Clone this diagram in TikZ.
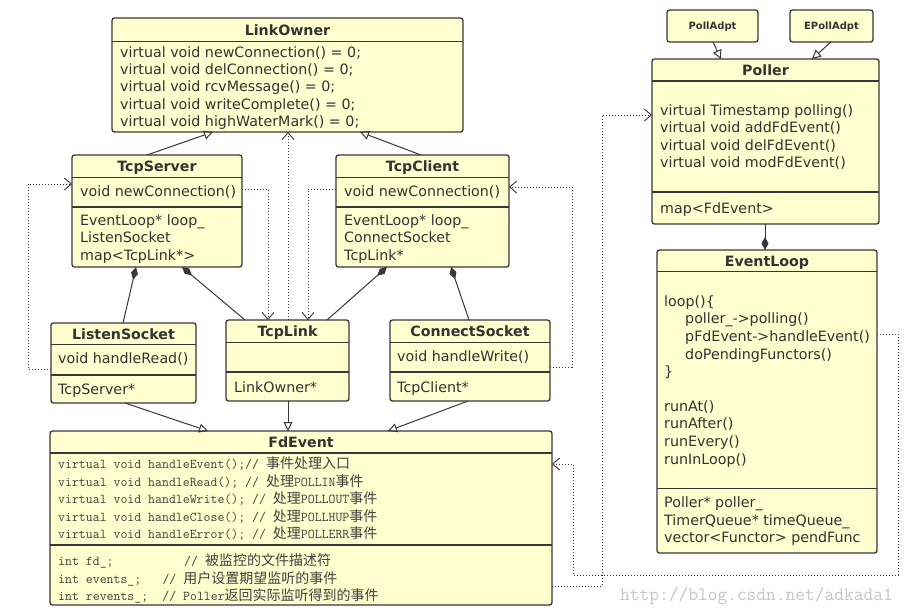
\documentclass[tikz,border=0pt]{standalone}
\usepackage{fontspec}
\setmainfont{DejaVu Sans}
\newfontfamily\cjk{Noto Sans CJK SC}
\newfontfamily\lmmono{Latin Modern Mono}
\usetikzlibrary{arrows.meta}
\definecolor{umlfill}{HTML}{FEFECE}
\definecolor{umlline}{HTML}{383838}
\definecolor{umltext}{HTML}{333333}
\definecolor{wmark}{HTML}{C9C5C0}
\frenchspacing
\newcommand\zh[1]{{\cjk\fontsize{14}{16}\selectfont #1}}
\newcommand\classlines[6]{%
  \foreach \t [count=\i] in {#6}{%
    \node[#5, anchor=base west] (#1\i) at (#2,{#3+(\i-1)*#4}) {\t};}}
\tikzset{
  box/.style={draw=umlline, line width=1.3pt, fill=umlfill, rounded corners=2.5pt,
    inner sep=0pt, outer sep=0pt, anchor=north west},
  divl/.style={draw=umlline, line width=1.3pt},
  ttl/.style={font=\bfseries\fontsize{14.2}{16}\selectfont, text=umltext, inner sep=0pt,
    text height=10.3pt, text depth=0pt, anchor=center},
  sttl/.style={font=\bfseries\fontsize{10}{12}\selectfont, text=umltext, inner sep=0pt,
    text height=7.3pt, text depth=0pt, anchor=center},
  body/.style={font=\fontsize{14.25}{16}\selectfont, text=umltext, inner sep=0pt},
  mono/.style={font=\lmmono\fontsize{13.45}{16}\selectfont, text=black!75, inner sep=0pt},
  conn/.style={draw=umlline, line width=1pt},
  inh/.style={conn, -{Triangle[open, length=9pt, width=9pt]}},
  comp/.style={conn, {Diamond[length=13pt, width=7pt]}-},
  compend/.style={conn, -{Diamond[length=13pt, width=7pt]}},
  dep/.style={draw=umlline, line width=0.9pt, dash pattern=on 1.1pt off 1.9pt,
    -{Straight Barb[length=7pt, width=12pt]}},
}
\begin{document}
\begin{tikzpicture}[x=1pt, y=-1pt]
\useasboundingbox (0,0) rectangle (911,614);
\fill[white] (0,0) rectangle (911,614);

% ---------------- LinkOwner
\node[box, minimum width=351pt, minimum height=114pt] (lo) at (112,18) {};
\draw[divl] ([yshift=-23.7pt]lo.north west) -- ([yshift=-23.7pt]lo.north east);
\node[ttl] (lot) at ([yshift=-12pt]lo.north) {LinkOwner};
\classlines{lo}{120}{57.3}{17.3}{body}{virtual void newConnection() = 0;, virtual void delConnection() = 0;, virtual void rcvMessage() = 0;, virtual void writeComplete() = 0;, virtual void highWaterMark() = 0;}

% ---------------- TcpServer
\node[box, minimum width=170pt, minimum height=112pt] (ts) at (72,155) {};
\draw[divl] ([yshift=-22.7pt]ts.north west) -- ([yshift=-22.7pt]ts.north east);
\draw[divl] ([yshift=-52pt]ts.north west) -- ([yshift=-52pt]ts.north east);
\node[ttl] (tst) at ([yshift=-11.5pt]ts.north) {TcpServer};
\node[body, anchor=base west] (tsm) at (80,196) {void newConnection()};
\classlines{ts}{80}{225.5}{17.3}{body}{EventLoop* loop\_, ListenSocket, map<TcpLink*>}

% ---------------- TcpClient
\node[box, minimum width=173pt, minimum height=112pt] (tc) at (336,155) {};
\draw[divl] ([yshift=-22.7pt]tc.north west) -- ([yshift=-22.7pt]tc.north east);
\draw[divl] ([yshift=-52pt]tc.north west) -- ([yshift=-52pt]tc.north east);
\node[ttl] (tct) at ([yshift=-11.5pt]tc.north) {TcpClient};
\node[body, anchor=base west] (tcm) at (344,196) {void newConnection()};
\classlines{tc}{344}{225.5}{17.3}{body}{EventLoop* loop\_, ConnectSocket, TcpLink*}

% ---------------- ListenSocket
\node[box, minimum width=145pt, minimum height=80pt] (ls) at (51,323) {};
\draw[divl] ([yshift=-21.5pt]ls.north west) -- ([yshift=-21.5pt]ls.north east);
\draw[divl] ([yshift=-52pt]ls.north west) -- ([yshift=-52pt]ls.north east);
\node[ttl] (lst) at ([yshift=-11pt]ls.north) {ListenSocket};
\node[body, anchor=base west] (lsm) at (58,363.8) {void handleRead()};
\node[body, anchor=base west] (lsa) at (58,394.5) {TcpServer*};

% ---------------- TcpLink
\node[box, minimum width=123pt, minimum height=81pt] (tl) at (226,320) {};
\draw[divl] ([yshift=-22.3pt]tl.north west) -- ([yshift=-22.3pt]tl.north east);
\draw[divl] ([yshift=-52pt]tl.north west) -- ([yshift=-52pt]tl.north east);
\node[ttl] (tlt) at ([yshift=-11.5pt]tl.north) {TcpLink};
\node[body, anchor=base west] (tla) at (234,392.5) {LinkOwner*};

% ---------------- ConnectSocket
\node[box, minimum width=160pt, minimum height=81pt] (cs) at (390,320) {};
\draw[divl] ([yshift=-22.3pt]cs.north west) -- ([yshift=-22.3pt]cs.north east);
\draw[divl] ([yshift=-52pt]cs.north west) -- ([yshift=-52pt]cs.north east);
\node[ttl] (cst) at ([yshift=-11.5pt]cs.north) {ConnectSocket};
\node[body, anchor=base west] (csm) at (397,361.2) {void handleWrite()};
\node[body, anchor=base west] (csa) at (397,392.8) {TcpClient*};

% ---------------- FdEvent
\node[box, minimum width=502pt, minimum height=174pt] (fd) at (50,431) {};
\draw[divl] ([yshift=-22pt]fd.north west) -- ([yshift=-22pt]fd.north east);
\draw[divl] ([yshift=-114pt]fd.north west) -- ([yshift=-114pt]fd.north east);
\node[ttl] (fdt) at ([yshift=-11pt]fd.north) {FdEvent};
\classlines{fdm}{58}{468.8}{17.5}{mono}{virtual void handleEvent();// \zh{事件处理入口}, virtual void handleRead(); // \zh{处理}POLLIN\zh{事件}, virtual void handleWrite(); // \zh{处理}POLLOUT\zh{事件}, virtual void handleClose(); // \zh{处理}POLLHUP\zh{事件}, virtual void handleError(); // \zh{处理}POLLERR\zh{事件}}
\classlines{fda}{58}{565.3}{17.8}{mono}{int fd\_;\hspace{5.25em}// \zh{被监控的文件描述符}, int events\_;\hspace{1.575em}// \zh{用户设置期望监听的事件}, int revents\_;\hspace{1.05em}// Poller\zh{返回实际监听得到的事件}}

% ---------------- PollAdpt / EPollAdpt
\node[box, minimum width=91pt, minimum height=32pt] (pa) at (667,10) {};
\node[sttl] (pat) at (pa.center) {PollAdpt};
\node[box, minimum width=83pt, minimum height=32pt] (ep) at (790,10) {};
\node[sttl] (ept) at (ep.center) {EPollAdpt};

% ---------------- Poller
\node[box, minimum width=227pt, minimum height=165pt] (po) at (652,59) {};
\draw[divl] ([yshift=-22pt]po.north west) -- ([yshift=-22pt]po.north east);
\draw[divl] ([yshift=-133pt]po.north west) -- ([yshift=-133pt]po.north east);
\node[ttl] (pot) at ([yshift=-11.5pt]po.north) {Poller};
\classlines{pom}{660}{115.2}{17.5}{body}{virtual Timestamp polling(), virtual void addFdEvent(), virtual void delFdEvent(), virtual void modFdEvent()}
\node[body, anchor=base west] (poa) at (660,213.8) {map<FdEvent>};

% ---------------- EventLoop
\node[box, minimum width=220pt, minimum height=303pt] (el) at (657,250) {};
\draw[divl] ([yshift=-21.7pt]el.north west) -- ([yshift=-21.7pt]el.north east);
\draw[divl] ([yshift=-238.3pt]el.north west) -- ([yshift=-238.3pt]el.north east);
\node[ttl] (elt) at ([yshift=-11pt]el.north) {EventLoop};
\node[body, anchor=base west] (ell) at (664,306.2) {loop()\{};
\classlines{eli}{685}{323.8}{17.6}{body}{poller\_->polling(), pFdEvent->handleEvent(), doPendingFunctors()}
\node[body, anchor=base west] (elc) at (664,376.6) {\}};
\classlines{elr}{664}{411.2}{17.6}{body}{runAt(), runAfter(), runEvery(), runInLoop()}
\classlines{ela}{664}{507.8}{17.5}{body}{Poller* poller\_, TimerQueue* timeQueue\_, vector<Functor> pendFunc}

% ---------------- watermark
\node[font=\lmmono\fontsize{18.9}{20}\selectfont, text=wmark, inner sep=0pt, anchor=base west] (wm) at (620,600) {http://blog.csdn.net/adkada1};

% ---------------- inheritance
\draw[inh] ([xshift=75pt]ts.north west) -- ([xshift=101pt]lo.south west);
\draw[inh] ([xshift=85pt]tc.north west) -- ([xshift=248pt]lo.south west);
\draw[inh] ([xshift=74pt]ls.south west) -- ([xshift=158pt]fd.north west);
\draw[inh] ([xshift=62pt]tl.south west) -- ([xshift=238pt]fd.north west);
\draw[inh] ([xshift=78pt]cs.south west) -- ([xshift=338pt]fd.north west);
\draw[inh] ([xshift=46pt]pa.south west) -- ([xshift=69pt]po.north west);
\draw[inh] ([xshift=41pt]ep.south west) -- ([xshift=160pt]po.north west);

% ---------------- composition
\draw[comp] ([xshift=64pt]ts.south west) -- ([xshift=72pt]ls.north west);
\draw[comp] ([xshift=110pt]ts.south west) -- ([xshift=19pt]tl.north west);
\draw[comp] ([xshift=51pt]tc.south west) -- ([xshift=101pt]tl.north west);
\draw[comp] ([xshift=115pt]tc.south west) -- ([xshift=79pt]cs.north west);
\draw[compend] ([xshift=113pt]po.south west) -- ([xshift=108pt]el.north west);

% ---------------- dependencies
\draw[dep] ([xshift=62pt]tl.north west) -- ([xshift=176pt]lo.south west);
\draw[dep] ([yshift=-46pt]ls.north west) -- ++(-23,0) |- ([yshift=-29pt]ts.north west);
\draw[dep] ([yshift=-34pt]ts.north east) -| ([xshift=42pt]tl.north west);
\draw[dep] ([yshift=-34pt]tc.north west) -| ([xshift=82pt]tl.north west);
\draw[dep] ([yshift=-47pt]cs.north east) -- ++(22,0) |- ([yshift=-32pt]tc.north east);
\draw[dep] ([yshift=-84pt]el.north east) -- ++(21,0) -- ++(0,241) -- ++(-325,0) |- ([yshift=-33pt]fd.north east);
\draw[dep] ([yshift=-155pt]fd.north east) -- ++(50,0) |- ([yshift=-56pt]po.north west);
\end{tikzpicture}
\end{document}
